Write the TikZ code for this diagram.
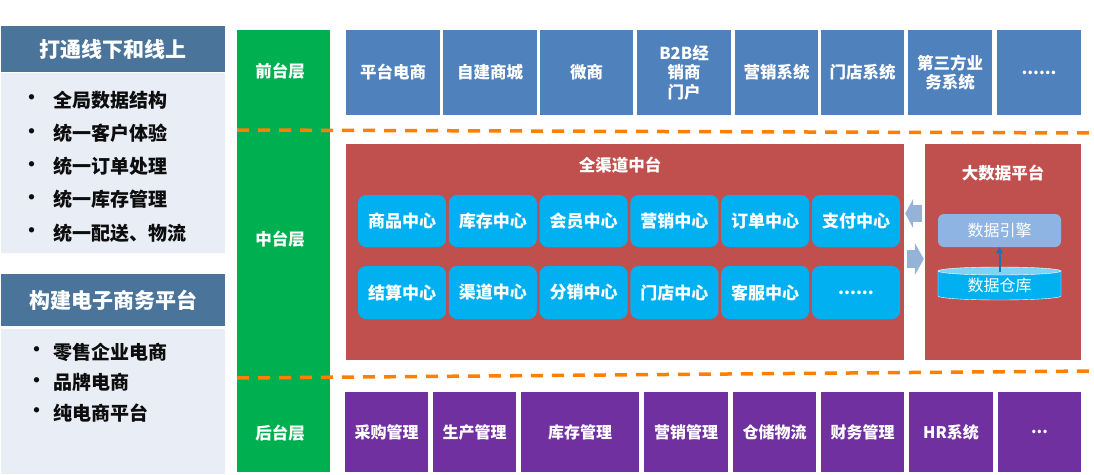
\documentclass[tikz,border=0pt]{standalone}
\usepackage{fontspec}
\setmainfont{Noto Sans CJK SC}
\usetikzlibrary{arrows.meta}
\definecolor{headblue}{RGB}{74,116,154}
\definecolor{panelgray}{RGB}{233,238,246}
\definecolor{layergreen}{RGB}{0,176,80}
\definecolor{frontblue}{RGB}{79,129,189}
\definecolor{midred}{RGB}{192,80,77}
\definecolor{centercyan}{RGB}{0,176,240}
\definecolor{backpurple}{RGB}{112,48,160}
\definecolor{dashorange}{RGB}{255,128,0}
\definecolor{engineblue}{RGB}{142,180,227}
\definecolor{flowblue}{RGB}{149,179,215}
\definecolor{toplight}{RGB}{125,212,246}
\definecolor{pointblue}{RGB}{31,111,181}
\newcommand{\sixdots}{......}
\newcommand{\threedots}{...}
\tikzset{
	cell/.style={inner sep=0pt, align=center, text=white, font=\bfseries\fontsize{16.5}{19.5}\selectfont},
	frontcell/.style={cell, fill=frontblue, minimum height=85},
	backcell/.style={cell, fill=backpurple, minimum height=80, font=\bfseries\fontsize{16}{19}\selectfont},
	centercell/.style={cell, fill=centercyan, rounded corners=8pt, minimum width=88, font=\bfseries\fontsize{17}{20}\selectfont},
	headbar/.style={fill=headblue, text=white, inner sep=0pt, minimum width=224, minimum height=46, font=\bfseries\fontsize{21}{24}\selectfont},
	point/.style={text=black!95, inner sep=0pt, font=\bfseries\fontsize{19}{22}\selectfont},
	layername/.style={text=white, inner sep=0pt, font=\bfseries\fontsize{16.5}{19}\selectfont},
	title/.style={text=white, inner sep=0pt, font=\bfseries\fontsize{16.5}{19}\selectfont},
	divider/.style={dashorange, line width=3.5pt, dash pattern=on 12pt off 9pt},
	flow/.style={flowblue, line width=17pt, -{Triangle[length=8pt,width=29pt]}},
}
\begin{document}
\begin{tikzpicture}[x=1pt, y=-1pt]
	\useasboundingbox (0,0) rectangle (1094,474);
	% left panel
	\node[headbar] (goal1) at (113,49) {打通线下和线上};
	\fill[panelgray] (1,73) rectangle (225,253);
	\foreach \t [count=\i] in {全局数据结构,统一客户体验,统一订单处理,统一库存管理,统一配送、物流}{
		\node[point] (dot1-\i) at (32,{66.75+33.25*\i}) {•};
		\node[point, anchor=west] (item1-\i) at (53,{66.75+33.25*\i}) {\t};
	}
	\node[headbar, minimum height=52] (goal2) at (113,300) {构建电子商务平台};
	\fill[panelgray] (1,329) rectangle (225,474);
	\foreach \t [count=\i] in {零售企业电商,品牌电商,纯电商平台}{
		\node[point] (dot2-\i) at (37,{321.5+30.5*\i}) {•};
		\node[point, anchor=west] (item2-\i) at (53,{321.5+30.5*\i}) {\t};
	}
	% layer column
	\node[fill=layergreen, minimum width=93, minimum height=442, inner sep=0pt] (layers) at (283.5,251) {};
	\node[layername] (front) at (280,71) {前台层};
	\node[layername] (middle) at (280,239) {中台层};
	\node[layername] (back) at (280,433) {后台层};
	% front row
	\foreach \x/\w/\t [count=\i] in {393/94/平台电商,490/94/自建商城,586.5/93/微商,684/94/{B2B经\\销商\\门户},776.5/83/营销系统,862.5/83/门店系统,950/84/{第三方业\\务系统},1039/84/\sixdots}{
		\node[frontcell, minimum width=\w] (f\i) at (\x,72.5) {\t};
	}
	% middle platform
	\node[fill=midred, minimum width=558, minimum height=216, inner sep=0pt] (omni) at (625,252) {};
	\node[title] (omnititle) at (620,165) {全渠道中台};
	\foreach \t [count=\i from 0] in {商品中心,库存中心,会员中心,营销中心,订单中心,支付中心}{
		\node[centercell, minimum height=52] (c1-\i) at ({402+90.8*\i},221) {\t};
	}
	\foreach \t [count=\i from 0] in {结算中心,渠道中心,分销中心,门店中心,客服中心,\sixdots}{
		\node[centercell, minimum height=53] (c2-\i) at ({402+90.8*\i},292.5) {\t};
	}
	% big data
	\node[fill=midred, minimum width=156, minimum height=216, inner sep=0pt] (bigdata) at (1003,252) {};
	\node[title] (bigtitle) at (1003,173) {大数据平台};
	\node[fill=engineblue, rounded corners=6pt, minimum width=123, minimum height=33, inner sep=0pt, text=white, font=\fontsize{16}{19}\selectfont] (engine) at (999.5,230.5) {数据引擎};
	\filldraw[fill=centercyan, draw=white, thin] (938,271) -- (938,296) arc[start angle=180, end angle=360, x radius=61.5pt, y radius=4pt] -- (1061,271) -- cycle;
	\filldraw[fill=toplight, draw=white, thin] (999.5,271) ellipse[x radius=61.5pt, y radius=4pt];
	\node[minimum width=123, minimum height=33, inner sep=0pt, text=white, font=\fontsize{16}{19}\selectfont] (warehouse) at (999.5,285) {数据仓库};
	\draw[pointblue, line width=2pt, -{Triangle[length=6pt,width=7pt]}] ([yshift=-4pt]warehouse.north) -- (engine.south);
	\draw[flow] ([yshift=38.5pt, xshift=-3pt]bigdata.west) -- ([yshift=38.5pt, xshift=1pt]omni.east);
	\draw[flowblue, line width=18pt, -{Triangle[length=9pt,width=32pt]}] ([yshift=-7pt, xshift=3pt]omni.east) -- ([yshift=-7pt, xshift=-1pt]bigdata.west);
	% back row
	\foreach \x/\w/\t [count=\i] in {386.5/83/采购管理,474.5/83/生产管理,580/118/库存管理,686/84/营销管理,774.5/83/仓储物流,862.5/83/财务管理,951/84/HR系统,1039.5/83/\threedots}{
		\node[backcell, minimum width=\w] (b\i) at (\x,432) {\t};
	}
	% dividers
	\draw[divider] (237,130) -- (1094,133);
	\draw[divider] (237,378) -- (1094,371);
\end{tikzpicture}
\end{document}
